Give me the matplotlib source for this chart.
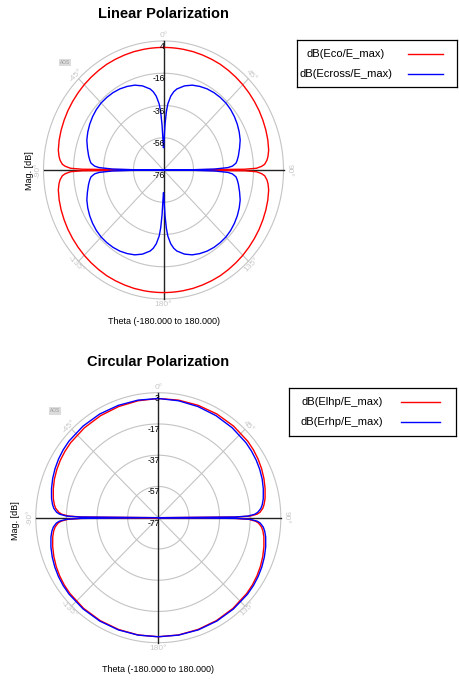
import numpy as np
import matplotlib
matplotlib.use('Agg')
from matplotlib import pyplot as plt
from matplotlib.lines import Line2D

plt.rcParams['font.family'] = ['Liberation Sans', 'DejaVu Sans']

W, H = 459, 681

# angle measured from the pole (0 or 180 deg) towards the horizontal axis
phi_lin = [0, 1, 2, 3, 4, 6, 8, 10, 15, 20, 25, 30, 35, 40, 45, 50, 55, 60,
           65, 70, 75, 80, 83, 85, 87, 88, 89, 89.5, 90]
eco_db = [0, 0, 0, 0, 0, 0, 0, 0, 0, -0.1, -0.2, -0.3, -0.6, -0.9, -1.2, -1.6,
          -2.0, -2.4, -2.9, -3.4, -4.0, -4.8, -5.8, -6.8, -8.5, -10.5, -14, -22, -76]
ecross_db = [-62, -58, -48, -40, -35, -30, -27, -25, -22, -20, -18.8, -17.9,
             -17.4, -17.2, -17.2, -17.6, -18.3, -19.2, -20.3, -21.6, -23.5,
             -25.3, -26.5, -27.5, -30, -33, -42, -56, -76]
lin_rings = [4, -16, -36, -56, -76]

phi_circ = [0, 10, 20, 30, 40, 50, 55, 60, 65, 70, 75, 80, 83, 85, 87, 88, 89, 89.5, 90]
# quadrants: upper right, lower right, lower left, upper left
elhp_ur = [-0.7, -0.6, -0.5, -0.4, -0.5, -0.8, -1.2, -1.8, -2.6, -3.6, -4.8, -6.2,
           -7.4, -8.5, -10.5, -12.5, -17, -26, -77]
elhp_lr = [-0.8, -0.8, -0.9, -1.0, -1.2, -1.6, -2.0, -2.6, -3.4, -4.4, -5.6, -7.0,
           -8.2, -9.4, -11.5, -13.5, -18, -27, -77]
elhp_ll = [-0.8, -0.8, -0.9, -1.0, -1.2, -1.6, -2.0, -2.6, -3.4, -4.4, -5.6, -7.0,
           -8.2, -9.4, -11.5, -13.5, -18, -27, -77]
elhp_ul = [-0.7, -1.0, -1.3, -1.6, -1.9, -2.3, -2.7, -3.2, -3.9, -4.8, -6.0, -7.4,
           -8.6, -9.8, -12, -14, -18.5, -27, -77]
erhp_ur = [-0.7, -1.0, -1.3, -1.6, -1.9, -2.3, -2.7, -3.2, -3.9, -4.8, -6.0, -7.4,
           -8.6, -9.8, -12, -14, -18.5, -27, -77]
erhp_lr = [-0.8, -0.7, -0.6, -0.6, -0.7, -0.9, -1.2, -1.7, -2.4, -3.3, -4.4, -5.8,
           -7.0, -8.2, -10.3, -12.3, -17, -26, -77]
erhp_ll = [-0.8, -0.7, -0.6, -0.6, -0.7, -0.9, -1.2, -1.7, -2.4, -3.3, -4.4, -5.8,
           -7.0, -8.2, -10.3, -12.3, -17, -26, -77]
erhp_ul = [-0.7, -0.6, -0.5, -0.4, -0.5, -0.8, -1.2, -1.8, -2.6, -3.6, -4.8, -6.2,
           -7.4, -8.5, -10.5, -12.5, -17, -26, -77]
circ_rings = [3, -17, -37, -57, -77]

angle_ticks = [0, 45, 90, 135, 180, -135, -90, -45]


def px(x, y):
    return x / W, 1 - y / H


def full_pattern(phi, ur, lr, ll, ul):
    phi = np.asarray(phi, float)
    th = np.concatenate([phi, 180 - phi[::-1], 180 + phi, 360 - phi[::-1]])
    db = np.concatenate([ur, lr[::-1], ll, ul[::-1]])
    return th, db


def project(th, db, lo, hi):
    r = np.clip((np.asarray(db) - lo) / (hi - lo), 0, 1)
    t = np.radians(th)
    return r * np.sin(t), r * np.cos(t)


def polar_axes(cx, cy, rx, ry, rings):
    l, b = px(cx - rx, cy + ry)
    ax = fig.add_axes([l, b, 2 * rx / W, 2 * ry / H])
    ax.set_xlim(-1, 1)
    ax.set_ylim(-1, 1)
    ax.axis('off')
    t = np.linspace(0, 2 * np.pi, 361)
    for k in range(1, 5):
        ax.plot(k / 4 * np.sin(t), k / 4 * np.cos(t), color='#c4c4c4', lw=0.8, zorder=1, clip_on=False)
    for a in (45, 135, 225, 315):
        ax.plot([0, np.sin(np.radians(a))], [0, np.cos(np.radians(a))], color='#c4c4c4', lw=0.8, zorder=1)
    ax.plot([0, 0], [-1, 1], color='#222222', lw=1.0, zorder=2, clip_on=False)
    ax.plot([-1, 1], [0, 0], color='#222222', lw=1.0, zorder=2, clip_on=False)
    for i, v in enumerate(rings):
        ax.text(0.012, 1 - i / 4 - 0.008, str(v), ha='right', va='top', fontsize=6.2, zorder=5)
    for a in angle_ticks:
        rot = -a if abs(a) <= 90 else 180 - a
        rr = 1.045 if a % 90 == 0 else 1.035
        ax.text(rr * np.sin(np.radians(a)), rr * np.cos(np.radians(a)), f'{a}°',
                rotation=rot, ha='center', va='center', rotation_mode='anchor',
                color='#c8c8c8', fontsize=6)
    return ax


def legend_box(x0, y0, x1, y1, labels, colors, text_x, line_x0, line_x1, rows_y):
    l, b = px(x0, y1)
    lax = fig.add_axes([l, b, (x1 - x0) / W, (y1 - y0) / H])
    lax.set_xticks([])
    lax.set_yticks([])
    for s in lax.spines.values():
        s.set_linewidth(0.9)
        s.set_color('black')
    for lab, col, ry in zip(labels, colors, rows_y):
        fig.text(*px(text_x, ry), lab, ha='center', va='center', fontsize=8)
        fig.add_artist(Line2D([line_x0 / W, line_x1 / W], [1 - ry / H, 1 - ry / H], color=col, lw=1.0))


fig = plt.figure(figsize=(W / 100, H / 100), dpi=100)

# ---- Linear polarization
ax1 = polar_axes(163.5, 170, 120, 129, lin_rings)
th, db = full_pattern(phi_lin, eco_db, eco_db, eco_db, eco_db)
ax1.plot(*project(th, db, -76, 4), color='#ff0000', lw=1.0, zorder=3)
th, db = full_pattern(phi_lin, ecross_db, ecross_db, ecross_db, ecross_db)
ax1.plot(*project(th, db, -76, 4), color='#0000ff', lw=1.0, zorder=4)

fig.text(*px(163.5, 14), 'Linear Polarization', ha='center', va='center', fontsize=10.5, fontweight='bold')
fig.text(*px(30, 171), 'Mag. [dB]', ha='center', va='center', rotation=90, fontsize=6.5)
fig.text(*px(164, 322), 'Theta (-180.000 to 180.000)', ha='center', va='center', fontsize=6.5)
fig.text(*px(65, 62.5), 'AOS', ha='center', va='center', fontsize=3.5, color='#9a9a9a',
         bbox=dict(boxstyle='square,pad=0.25', fc='#dcdcdc', ec='none'))
legend_box(296.5, 40, 456.5, 86.5, ['dB(Eco/E_max)', 'dB(Ecross/E_max)'],
           ['#ff0000', '#0000ff'], 346, 408, 443, [54, 74])

# ---- Circular polarization
ax2 = polar_axes(158.3, 517.7, 122.5, 125, circ_rings)
th, db = full_pattern(phi_circ, elhp_ur, elhp_lr, elhp_ll, elhp_ul)
ax2.plot(*project(th, db, -77, 3), color='#ff0000', lw=1.0, zorder=3)
th, db = full_pattern(phi_circ, erhp_ur, erhp_lr, erhp_ll, erhp_ul)
ax2.plot(*project(th, db, -77, 3), color='#0000ff', lw=1.0, zorder=4)

fig.text(*px(158.3, 362), 'Circular Polarization', ha='center', va='center', fontsize=10.5, fontweight='bold')
fig.text(*px(16, 521), 'Mag. [dB]', ha='center', va='center', rotation=90, fontsize=6.5)
fig.text(*px(158.3, 669), 'Theta (-180.000 to 180.000)', ha='center', va='center', fontsize=6.5)
fig.text(*px(55, 411), 'AOS', ha='center', va='center', fontsize=3.5, color='#9a9a9a',
         bbox=dict(boxstyle='square,pad=0.25', fc='#dcdcdc', ec='none'))
legend_box(288.5, 388, 456.5, 436, ['dB(Elhp/E_max)', 'dB(Erhp/E_max)'],
           ['#ff0000', '#0000ff'], 342, 401, 440, [402, 422])

fig.savefig('out.png', dpi=100)
